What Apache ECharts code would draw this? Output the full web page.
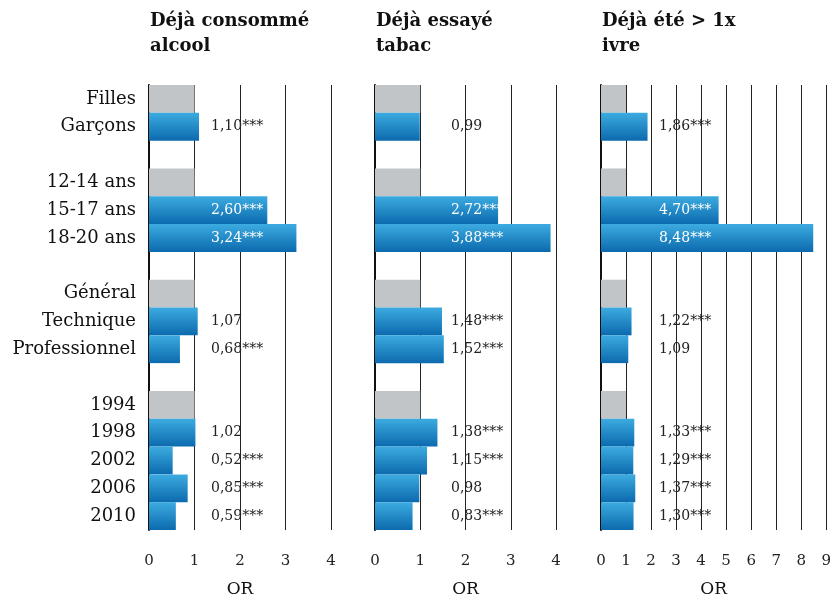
<!DOCTYPE html>
<html>
<head>
<meta charset="utf-8">
<script src="https://cdn.jsdelivr.net/npm/echarts@6/dist/echarts.min.js"></script>
<style>
  html, body { margin: 0; padding: 0; background: #fff; }
  #chart { width: 834px; height: 603px; }
</style>
</head>
<body>
<div id="chart"></div>
<script>
// catégories (les lignes vides séparent les groupes)
var categories = ['Filles', 'Garçons', ' ', '12-14 ans', '15-17 ans', '18-20 ans', '  ',
	'Général', 'Technique', 'Professionnel', '   ', '1994', '1998', '2002', '2006', '2010'];
// 1 = catégorie de référence (barre grise), '-' = ligne vide
var refRows = [0, 3, 7, 11];

var alcoolOR = [1, 1.10, '-', 1, 2.60, 3.24, '-', 1, 1.07, 0.68, '-', 1, 1.02, 0.52, 0.85, 0.59];
var alcoolTxt = ['', '1,10***', '', '', '2,60***', '3,24***', '', '', '1,07', '0,68***', '', '', '1,02', '0,52***', '0,85***', '0,59***'];

var tabacOR = [1, 0.99, '-', 1, 2.72, 3.88, '-', 1, 1.48, 1.52, '-', 1, 1.38, 1.15, 0.98, 0.83];
var tabacTxt = ['', '0,99', '', '', '2,72***', '3,88***', '', '', '1,48***', '1,52***', '', '', '1,38***', '1,15***', '0,98', '0,83***'];

var ivreOR = [1, 1.86, '-', 1, 4.70, 8.48, '-', 1, 1.22, 1.09, '-', 1, 1.33, 1.29, 1.37, 1.30];
var ivreTxt = ['', '1,86***', '', '', '4,70***', '8,48***', '', '', '1,22***', '1,09', '', '', '1,33***', '1,29***', '1,37***', '1,30***'];

var titles = ['Déjà consommé\nalcool', 'Déjà essayé\ntabac', 'Déjà été > 1x\nivre'];
var axisMax = [4, 4, 9];

var serif = 'DejaVu Serif';
var panels = [
	{ left: 149, width: 182, labelX: 62, values: alcoolOR, texts: alcoolTxt },
	{ left: 375, width: 181, labelX: 76, values: tabacOR, texts: tabacTxt },
	{ left: 601, width: 227, labelX: 58, values: ivreOR, texts: ivreTxt }
];

var blue = new echarts.graphic.LinearGradient(0, 0, 0, 1, [
	{ offset: 0, color: '#3cabe0' },
	{ offset: 1, color: '#0c6aae' }
]);

function buildData(p) {
	return p.values.map(function (v, i) {
		if (v === '-') return '-';
		var isRef = refRows.indexOf(i) >= 0;
		return {
			value: v,
			itemStyle: { color: isRef ? '#c2c5c8' : blue },
			label: {
				show: !isRef,
				formatter: p.texts[i],
				color: v >= 2.5 ? '#ffffff' : '#222222'
			}
		};
	});
}

var myChart = echarts.init(document.getElementById('chart'));
var option = {
	animation: false,
	backgroundColor: '#fff',
	title: panels.map(function (p, i) {
		return {
			text: titles[i],
			left: p.left + 1,
			top: 9,
			padding: 0,
			textStyle: { fontFamily: serif, fontWeight: 'bold', fontSize: 18, lineHeight: 25, color: '#111' }
		};
	}),
	grid: panels.map(function (p) {
		return { left: p.left, width: p.width, top: 85, height: 454 };
	}),
	xAxis: panels.map(function (p, i) {
		return {
			type: 'value',
			gridIndex: i,
			min: 0,
			max: axisMax[i],
			interval: 1,
			name: 'OR',
			nameLocation: 'middle',
			nameGap: 51,
			nameTextStyle: { fontFamily: serif, fontSize: 17, color: '#111' },
			axisLine: { show: false },
			axisTick: { show: false },
			axisLabel: { fontFamily: serif, fontSize: 15, color: '#222', margin: 24 },
			splitLine: { show: true, lineStyle: { color: '#222', width: 1 } }
		};
	}),
	yAxis: panels.map(function (p, i) {
		return {
			type: 'category',
			gridIndex: i,
			inverse: true,
			data: categories,
			axisLine: { show: true, lineStyle: { color: '#111', width: 2 } },
			axisTick: { show: false },
			axisLabel: { show: i === 0, fontFamily: serif, fontSize: 18, color: '#111', margin: 13 }
		};
	}),
	series: panels.map(function (p, i) {
		return {
			type: 'bar',
			xAxisIndex: i,
			yAxisIndex: i,
			barCategoryGap: '0%',
			data: buildData(p),
			label: {
				show: true,
				position: [p.labelX, '50%'],
				align: 'left',
				verticalAlign: 'middle',
				fontFamily: serif,
				fontSize: 14
			}
		};
	})
};
myChart.setOption(option, true);
</script>
</body>
</html>
